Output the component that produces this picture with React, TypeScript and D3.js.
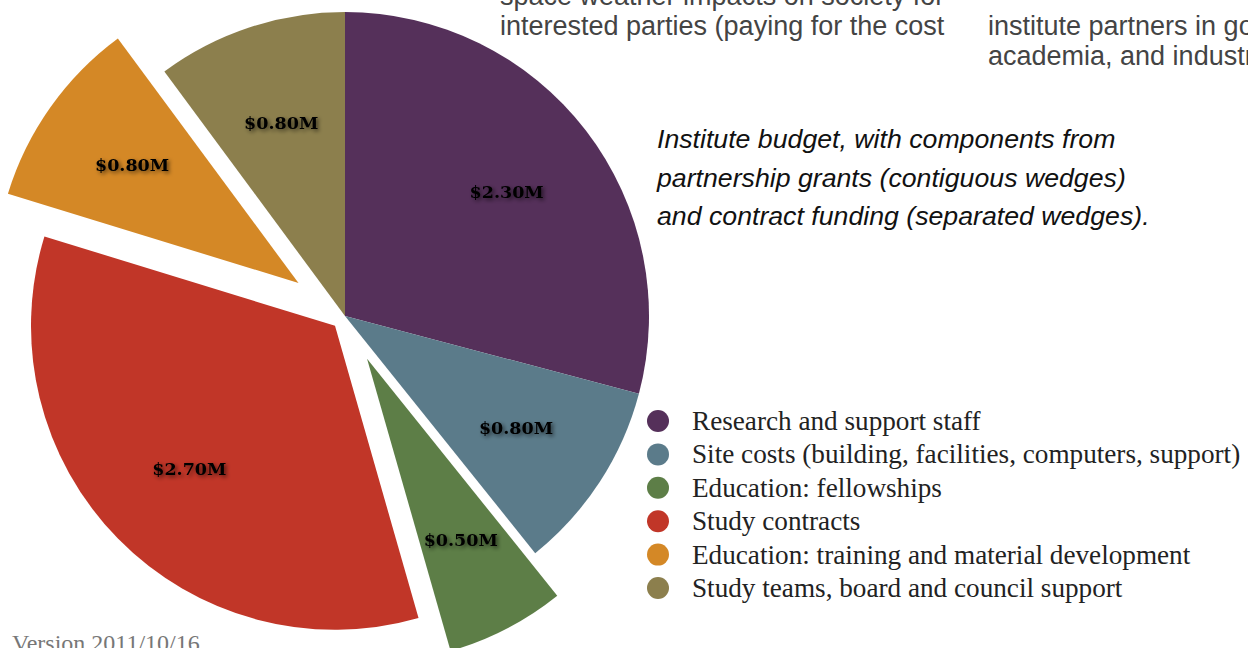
import React from "react";
import * as d3 from "d3";

// ---- data ----
const categories = [
  "Research and support staff",
  "Site costs (building, facilities, computers, support)",
  "Education: fellowships",
  "Study contracts",
  "Education: training and material development",
  "Study teams, board and council support",
];
const values = [2.3, 0.8, 0.5, 2.7, 0.8, 0.8];
const separated = [false, false, true, true, true, false];
const colors = ["#55305A", "#5B7B8A", "#5D7E47", "#C13628", "#D48826", "#8C7F4D"];

const captionLines = [
  "Institute budget, with components from",
  "partnership grants (contiguous wedges)",
  "and contract funding (separated wedges).",
];
const topLeftLines = ["space weather impacts on society for", "interested parties (paying for the cost"];
const topRightLines = ["institute partners in government,", "academia, and industry"];
const versionText = "Version 2011/10/16";

// ---- layout ----
const W = 1248;
const H = 648;
const cx = 345;
const cy = 316;
const R = 304;
const labelR = 204;
const explodeDist = [0, 0, 48, 14, 57, 0];

export default function App() {
  const pie = d3
    .pie<number>()
    .sort(null)
    .value((d) => d)
    .startAngle(0)
    .endAngle(Math.PI * 2);
  const arcs = pie(values);
  const arc = d3.arc<d3.PieArcDatum<number>>().innerRadius(0).outerRadius(R);
  const fmt = d3.format("$.2f");

  const legendY = d3.scalePoint<number>().domain(d3.range(categories.length)).range([421, 588]);

  return (
    <svg
      width={W}
      height={H}
      viewBox={`0 0 ${W} ${H}`}
      style={{ position: "absolute", left: 0, top: 0, background: "#fff" }}
    >
      <defs>
        <filter id="shadow" x="-20%" y="-40%" width="140%" height="180%">
          <feGaussianBlur in="SourceAlpha" stdDeviation="2" />
          <feOffset dx="2" dy="2" result="b" />
          <feComponentTransfer>
            <feFuncA type="linear" slope="0.6" />
          </feComponentTransfer>
          <feMerge>
            <feMergeNode />
            <feMergeNode in="SourceGraphic" />
          </feMerge>
        </filter>
      </defs>

      <g transform={`translate(${cx},${cy})`}>
        {arcs.map((a, i) => {
          const mid = (a.startAngle + a.endAngle) / 2;
          const d = separated[i] ? explodeDist[i] : 0;
          const ox = Math.sin(mid) * d;
          const oy = -Math.cos(mid) * d;
          return (
            <g key={i} transform={`translate(${ox},${oy})`}>
              <path d={arc(a) || ""} fill={colors[i]} />
            </g>
          );
        })}
        {arcs.map((a, i) => {
          const mid = (a.startAngle + a.endAngle) / 2;
          const d = (separated[i] ? explodeDist[i] : 0) + labelR;
          const lx = Math.sin(mid) * d;
          const ly = -Math.cos(mid) * d;
          return (
            <text
              key={"l" + i}
              x={lx}
              y={ly}
              dy="0.36em"
              textAnchor="middle"
              fontFamily="'DejaVu Serif', serif"
              fontWeight="bold"
              fontSize={17.5}
              fill="#000"
              filter="url(#shadow)"
            >
              {fmt(values[i]) + "M"}
            </text>
          );
        })}
      </g>

      {/* top partial texts */}
      <g fontFamily="'Liberation Sans', Arial, sans-serif" fontSize={27} fill="#444">
        {topLeftLines.map((t, i) => (
          <text key={"tl" + i} x={500} y={5 + i * 30}>
            {t}
          </text>
        ))}
        {topRightLines.map((t, i) => (
          <text key={"tr" + i} x={988} y={35 + i * 30}>
            {t}
          </text>
        ))}
      </g>

      {/* caption */}
      <g fontFamily="'Liberation Sans', Arial, sans-serif" fontStyle="italic" fontSize={26.7} fill="#111">
        {captionLines.map((t, i) => (
          <text key={"c" + i} x={657} y={148 + i * 38.5}>
            {t}
          </text>
        ))}
      </g>

      {/* legend */}
      <g fontFamily="'Liberation Serif', 'Times New Roman', serif" fontSize={27.2} fill="#222">
        {categories.map((c, i) => (
          <g key={"lg" + i} transform={`translate(0,${legendY(i)})`}>
            <circle cx={658} cy={0} r={11} fill={colors[i]} />
            <text x={692} y={0} dy="0.33em">
              {c}
            </text>
          </g>
        ))}
      </g>

      <text x={12} y={651} fontFamily="'Liberation Serif', 'Times New Roman', serif" fontSize={24} fill="#777">
        {versionText}
      </text>
    </svg>
  );
}
